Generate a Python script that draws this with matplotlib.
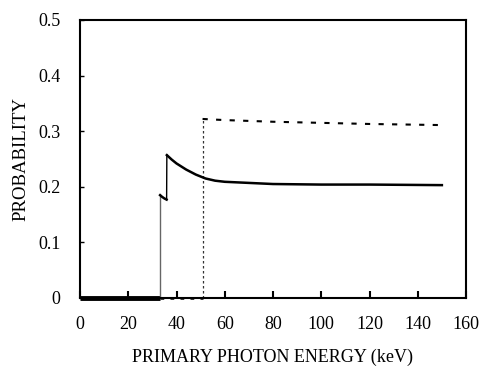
import numpy as np
import matplotlib.pyplot as plt

plt.rcParams['font.family'] = ['Liberation Serif', 'DejaVu Serif']

# solid curve (above its K-edge)
solid_e = [33.2, 34.0, 35.0, 35.9, 36.0, 38.0, 40.0, 44.0, 48.0, 52.0, 56.0, 60.0, 70.0, 80.0, 100.0, 120.0, 150.0]
solid_p = [0.185, 0.182, 0.179, 0.177, 0.257, 0.249, 0.242, 0.231, 0.222, 0.215, 0.211, 0.209, 0.207, 0.205, 0.204, 0.204, 0.203]
solid_edge = 33.2

# dashed curve (above its K-edge)
dash_e = [50.8, 60.0, 80.0, 100.0, 120.0, 150.0]
dash_p = [0.322, 0.320, 0.317, 0.315, 0.313, 0.311]
dash_edge = 50.8

xticks = [0, 20, 40, 60, 80, 100, 120, 140, 160]
yticks = [0, 0.1, 0.2, 0.3, 0.4, 0.5]

fig = plt.figure(figsize=(4.82, 3.67), dpi=100)
ax = fig.add_axes([80/482, 1 - 298/367, 386/482, 278/367])

# zero baseline below the edges
ax.plot([0, solid_edge], [0, 0], color='black', lw=3.5, solid_capstyle='butt', clip_on=False)
ax.plot([solid_edge, dash_edge], [0, 0], color='black', lw=1.8, ls=(0, (1.5, 2.5)), clip_on=False)
# rises at the edges
ax.plot([solid_edge, solid_edge], [0, solid_p[0]], color='#666666', lw=1)
ax.plot([dash_edge, dash_edge], [0, dash_p[0]], color='#333333', lw=0.9, ls=(0, (2, 2)))
# curves
ax.plot(solid_e[:4], solid_p[:4], color='black', lw=1.8)
ax.plot(solid_e[3:5], solid_p[3:5], color='black', lw=1)
ax.plot(solid_e[4:], solid_p[4:], color='black', lw=1.8)
ax.plot(dash_e, dash_p, color='black', lw=1.5, ls=(0, (2.5, 4)))

ax.set_xlim(0, 160)
ax.set_ylim(0, 0.5)
ax.set_xticks(xticks)
ax.set_yticks(yticks)
ax.set_xticklabels([str(t) for t in xticks])
ax.set_yticklabels(['0', '0.1', '0.2', '0.3', '0.4', '0.5'])
ax.tick_params(direction='in', length=5, width=1.5, labelsize=13)
ax.tick_params(axis='x', pad=13)
ax.tick_params(axis='y', length=3, width=1, pad=14)
for s in ax.spines.values():
    s.set_linewidth(1.5)

ax.set_xlabel('PRIMARY PHOTON ENERGY (keV)', fontsize=13, labelpad=11)
ax.set_ylabel('PROBABILITY', fontsize=13.5, labelpad=6)

fig.savefig('out.png', dpi=100)
